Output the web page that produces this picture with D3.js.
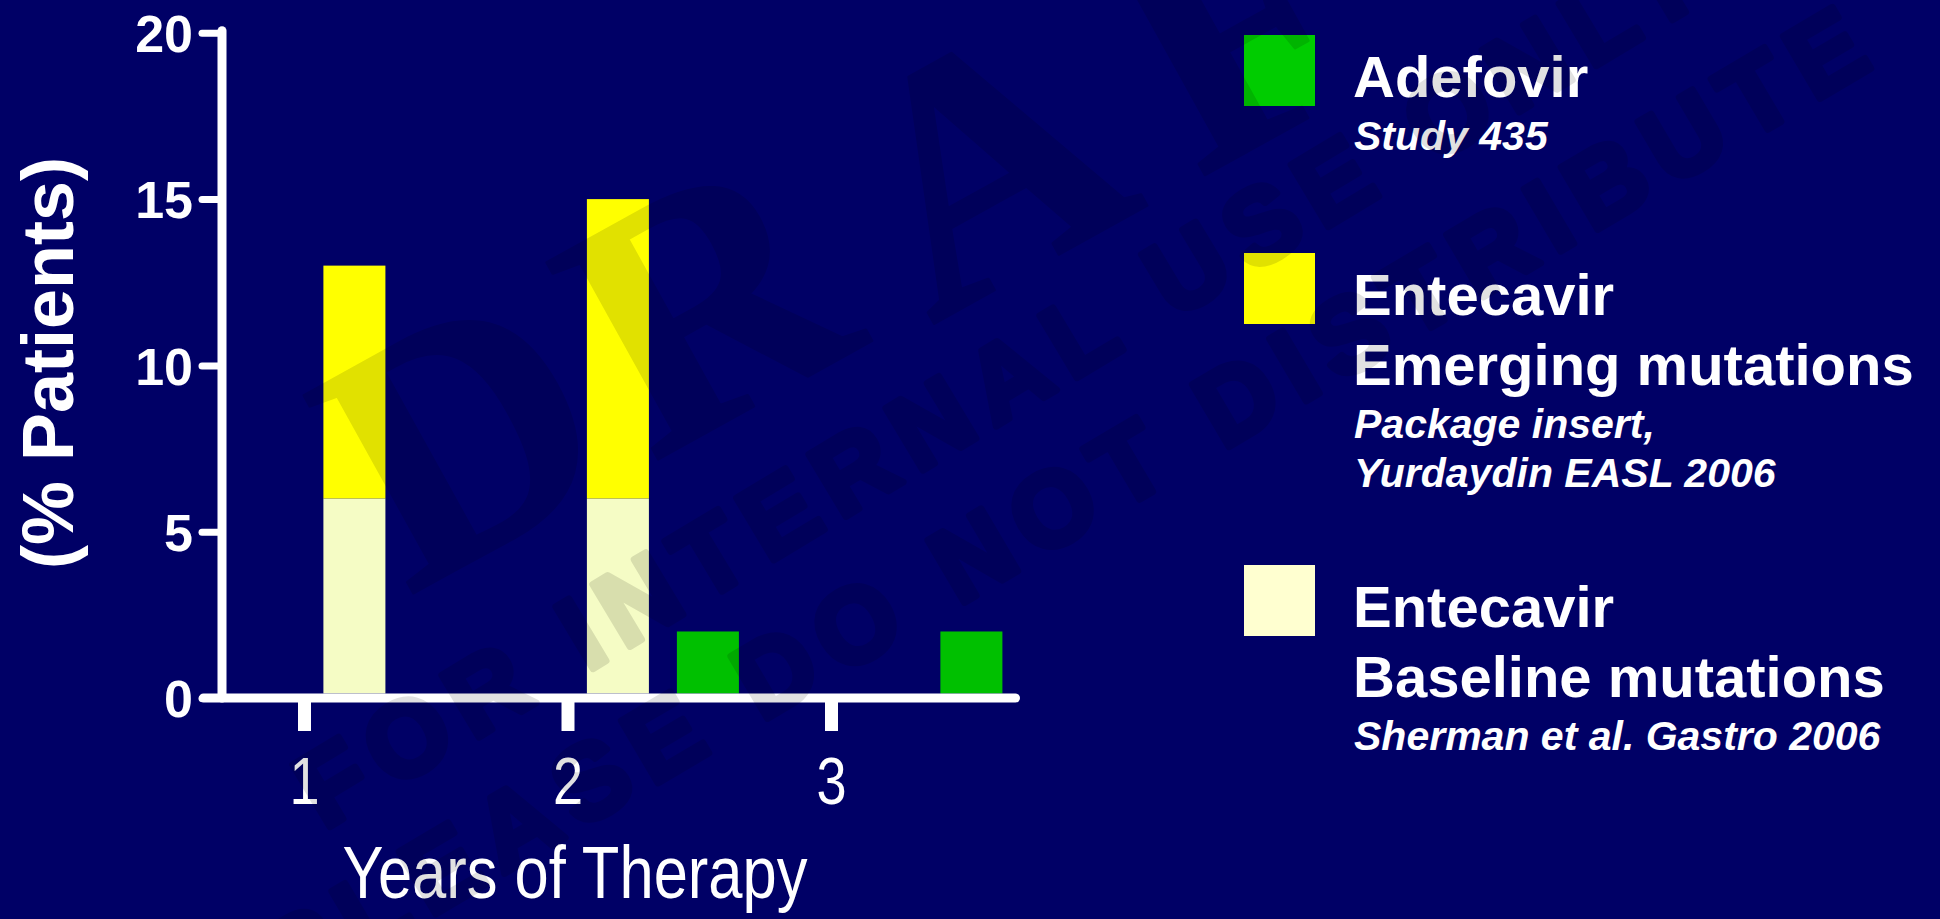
<!DOCTYPE html>
<html>
<head>
<meta charset="utf-8">
<script src="https://cdn.jsdelivr.net/npm/d3@7"></script>
<style>
  html, body { margin: 0; padding: 0; background: #000066; }
  svg { display: block; }
</style>
</head>
<body>
<svg id="chart" width="1940" height="919"></svg>
<script>
// Resistance over years of therapy (% patients)
const years = [1, 2, 3];
const entecavirBaseline = [6, 6, null];   // Entecavir, baseline mutations
const entecavirEmerging = [7, 9, null];   // Entecavir, emerging mutations (stacked on top)
const adefovirValues = [null, 2, 2];      // Adefovir, Study 435
const yTicks = [0, 5, 10, 15, 20];
const xTickLabels = ["1", "2", "3"];
const drugs = ["Entecavir", "Adefovir"];

const legendItems = [
  { name: ["Adefovir"], refs: ["Study 435"], swatch: "#00cc00" },
  { name: ["Entecavir", "Emerging mutations"], refs: ["Package insert,", "Yurdaydin EASL 2006"], swatch: "#ffff00" },
  { name: ["Entecavir", "Baseline mutations"], refs: ["Sherman et al. Gastro 2006"], swatch: "#ffffd0" }
];

const COLORS = { baseline: "#f5fcc5", emerging: "#ffff00", adefovir: "#00c000" };
const SANS = "'Liberation Sans', Arial, Helvetica, sans-serif";
const NARROW_SCALE = 0.82;   // horizontal squeeze giving a narrow face

const svg = d3.select("#chart");
svg.append("rect").attr("width", 1940).attr("height", 919).attr("fill", "#000066");

// Scales
const x = d3.scaleLinear().domain([1, 3]).range([304, 831]);
const sub = d3.scaleBand().domain(drugs).range([19.4, 171.4]).paddingInner(0.311);
const y = d3.scaleLinear().domain([0, 20]).range([698, 32.8]);
const axisX = 222;           // y-axis line position
const barBase = y(0) - 4.5;  // bars sit on top of the thick baseline

const plot = svg.append("g");

// Entecavir stacked bars
const entRows = years.map((yr, i) => ({ yr, base: entecavirBaseline[i], emerg: entecavirEmerging[i] }))
  .filter(d => d.base != null);
plot.selectAll("rect.base").data(entRows).join("rect")
  .attr("class", "base")
  .attr("x", d => x(d.yr) + sub("Entecavir"))
  .attr("width", sub.bandwidth())
  .attr("y", d => y(d.base))
  .attr("height", d => barBase - y(d.base))
  .attr("fill", COLORS.baseline);
plot.selectAll("rect.emerg").data(entRows).join("rect")
  .attr("class", "emerg")
  .attr("x", d => x(d.yr) + sub("Entecavir"))
  .attr("width", sub.bandwidth())
  .attr("y", d => y(d.base + d.emerg))
  .attr("height", d => y(d.base) - y(d.base + d.emerg))
  .attr("fill", COLORS.emerging);

// Adefovir bars
const adeRows = years.map((yr, i) => ({ yr, v: adefovirValues[i] })).filter(d => d.v != null);
plot.selectAll("rect.ade").data(adeRows).join("rect")
  .attr("class", "ade")
  .attr("x", d => x(d.yr) + sub("Adefovir"))
  .attr("width", sub.bandwidth())
  .attr("y", d => y(d.v))
  .attr("height", d => barBase - y(d.v))
  .attr("fill", COLORS.adefovir);

// Y axis
const yAxis = d3.axisLeft(y).tickValues(yTicks).tickSize(20).tickSizeOuter(0).tickPadding(9);
const gy = svg.append("g").attr("transform", `translate(${axisX},0)`).call(yAxis);
gy.select(".domain").remove();
gy.selectAll(".tick line").attr("stroke", "#fff").attr("stroke-width", 7).attr("stroke-linecap", "round");
gy.selectAll(".tick text")
  .attr("fill", "#fff").attr("font-family", SANS).attr("font-weight", "bold")
  .attr("font-size", 52).attr("dy", "0.36em");
svg.append("line")
  .attr("x1", axisX).attr("x2", axisX)
  .attr("y1", y(20) - 2).attr("y2", y(0))
  .attr("stroke", "#fff").attr("stroke-width", 9).attr("stroke-linecap", "round");

// X axis
const xAxis = d3.axisBottom(x).tickValues(years).tickFormat((d, i) => xTickLabels[i])
  .tickSize(29).tickSizeOuter(0).tickPadding(26);
const gx = svg.append("g").attr("transform", `translate(0,${y(0) + 4})`).call(xAxis);
gx.select(".domain").remove();
gx.selectAll(".tick line").attr("stroke", "#fff").attr("stroke-width", 13);
gx.selectAll(".tick text")
  .attr("fill", "#fff").attr("font-family", SANS).attr("font-size", 66)
  .attr("dy", "0.71em")
  .attr("transform", `scale(${NARROW_SCALE},1)`);
svg.append("line")
  .attr("x1", 203.5).attr("x2", 1015.5)
  .attr("y1", y(0)).attr("y2", y(0))
  .attr("stroke", "#fff").attr("stroke-width", 9).attr("stroke-linecap", "round");

// Axis titles
svg.append("text")
  .attr("transform", `translate(575,898) scale(${NARROW_SCALE},1)`)
  .attr("text-anchor", "middle")
  .attr("fill", "#fff").attr("font-family", SANS).attr("font-size", 75)
  .text("Years of Therapy");
svg.append("text")
  .attr("transform", "translate(73,363) rotate(-90)")
  .attr("text-anchor", "middle")
  .attr("fill", "#fff").attr("font-family", SANS).attr("font-weight", "bold").attr("font-size", 72)
  .text("(% Patients)");

// Legend
const legendTops = [97, 315, 627];
const legend = svg.append("g");
legendItems.forEach((item, i) => {
  const top = legendTops[i];
  legend.append("rect")
    .attr("x", 1244).attr("y", top - 62).attr("width", 71).attr("height", 71)
    .attr("fill", item.swatch);
  item.name.forEach((line, j) => {
    legend.append("text")
      .attr("x", 1353).attr("y", top + j * 70)
      .attr("fill", "#fff").attr("font-family", SANS).attr("font-weight", "bold").attr("font-size", 58)
      .text(line);
  });
  const refTop = top + (item.name.length - 1) * 70 + 53;
  item.refs.forEach((line, j) => {
    legend.append("text")
      .attr("x", 1354).attr("y", refTop + j * 48.5)
      .attr("fill", "#fff").attr("font-family", SANS).attr("font-weight", "bold")
      .attr("font-style", "italic").attr("font-size", 41)
      .text(line);
  });
});

// Watermark overlay
const wm = svg.append("g").attr("fill", "#000").attr("stroke", "#000")
  .attr("stroke-linejoin", "round").attr("opacity", 0.12).attr("pointer-events", "none");
const draftLetters = [
  { ch: "D", cx: 462, cy: 436 },
  { ch: "R", cx: 705, cy: 303 },
  { ch: "A", cx: 985, cy: 165 },
  { ch: "F", cx: 1235, cy: 28 }
];
wm.selectAll("text.draft").data(draftLetters).join("text")
  .attr("class", "draft")
  .attr("transform", d => `translate(${d.cx},${d.cy}) rotate(-29)`)
  .attr("text-anchor", "middle").attr("dy", "0.33em")
  .attr("font-family", "'Liberation Serif', 'Times New Roman', serif")
  .attr("font-weight", "bold").attr("font-size", 345).attr("stroke-width", 3)
  .text(d => d.ch);
wm.append("text")
  .attr("transform", "translate(1003,378) rotate(-31)")
  .attr("text-anchor", "middle").attr("dy", "0.36em")
  .attr("font-family", SANS).attr("font-weight", "bold").attr("font-size", 105)
  .attr("letter-spacing", 14).attr("stroke-width", 7)
  .text("FOR INTERNAL USE ONLY");
wm.append("text")
  .attr("transform", "translate(1069,497) rotate(-30.5)")
  .attr("text-anchor", "middle").attr("dy", "0.36em")
  .attr("font-family", SANS).attr("font-weight", "bold").attr("font-size", 105)
  .attr("letter-spacing", 14).attr("stroke-width", 7)
  .text("PLEASE DO NOT DISTRIBUTE");
</script>
</body>
</html>
